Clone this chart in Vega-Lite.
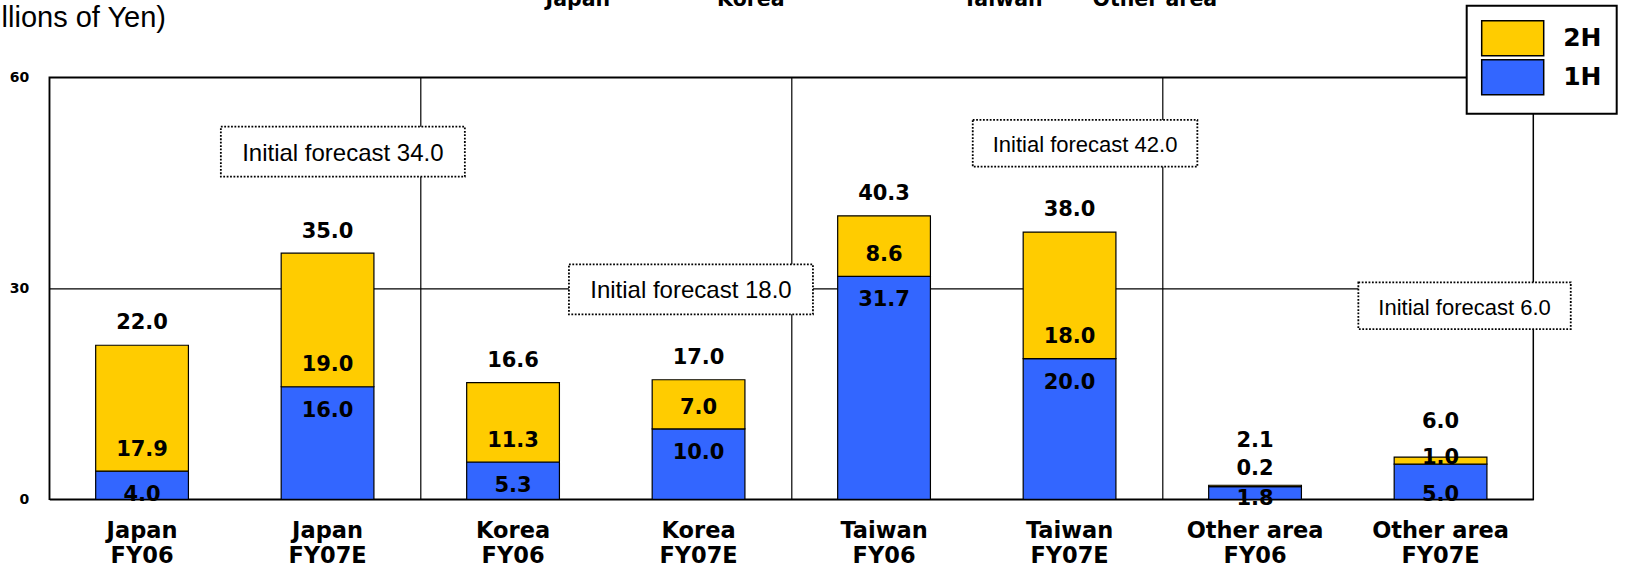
{
  "$schema": "https://vega.github.io/schema/vega-lite/v6.json",
  "width": 1484,
  "height": 422,
  "autosize": {"type": "none"},
  "padding": {"left": 49.3, "top": 77.3, "right": 110.7, "bottom": 69.7},
  "background": "white",
  "config": {"view": {"stroke": "black", "strokeWidth": 1.5}, "font": "DejaVu Sans"},
  "datasets": {
    "sales": [
      {"cat": "Japan|FY06", "1H": 4.0, "2H": 17.9, "total": 22.0},
      {"cat": "Japan|FY07E", "1H": 16.0, "2H": 19.0, "total": 35.0},
      {"cat": "Korea|FY06", "1H": 5.3, "2H": 11.3, "total": 16.6},
      {"cat": "Korea|FY07E", "1H": 10.0, "2H": 7.0, "total": 17.0},
      {"cat": "Taiwan|FY06", "1H": 31.7, "2H": 8.6, "total": 40.3},
      {"cat": "Taiwan|FY07E", "1H": 20.0, "2H": 18.0, "total": 38.0},
      {"cat": "Other area|FY06", "1H": 1.8, "2H": 0.2, "total": 2.1},
      {"cat": "Other area|FY07E", "1H": 5.0, "2H": 1.0, "total": 6.0}
    ]
  },
  "data": {"name": "sales"},
  "layer": [
    {
      "transform": [{"fold": ["1H", "2H"], "as": ["half", "v"]}],
      "mark": {"type": "bar", "width": {"band": 0.5}, "stroke": "black", "strokeWidth": 1.2},
      "encoding": {
        "x": {
          "field": "cat", "type": "nominal",
          "scale": {"domain": ["Japan|FY06", "Japan|FY07E", "Korea|FY06", "Korea|FY07E", "Taiwan|FY06", "Taiwan|FY07E", "Other area|FY06", "Other area|FY07E"], "paddingInner": 0, "paddingOuter": 0},
          "axis": {
            "bandPosition": 0, "domain": false, "ticks": false, "grid": true,
            "gridColor": {"condition": {"test": "indexof(datum.value, 'FY06') >= 0", "value": "black"}, "value": "transparent"},
            "gridWidth": 1.2,
            "labelExpr": "split(datum.label, '|')", "labelAngle": 0,
            "labelFont": "DejaVu Sans", "labelFontWeight": "bold", "labelFontSize": 22.5, "labelLineHeight": 25,
            "labelPadding": 20, "labelColor": "black", "labelOverlap": false,
            "title": "Japan\u00a0\u00a0\u00a0\u00a0\u00a0\u00a0\u00a0\u00a0\u00a0\u00a0\u00a0\u00a0\u00a0\u00a0\u00a0Korea\u00a0\u00a0\u00a0\u00a0\u00a0\u00a0\u00a0\u00a0\u00a0\u00a0\u00a0\u00a0\u00a0\u00a0\u00a0\u00a0\u00a0\u00a0\u00a0\u00a0\u00a0\u00a0\u00a0\u00a0\u00a0Taiwan\u00a0\u00a0\u00a0\u00a0\u00a0\u00a0\u00a0Other area",
            "titleFont": "DejaVu Sans", "titleFontWeight": "bold", "titleFontSize": 20.5, "titleColor": "black",
            "titleAlign": "left", "titleBaseline": "alphabetic", "titleX": 495.7, "titleY": -493.8
          }
        },
        "y": {
          "field": "v", "type": "quantitative", "stack": "zero",
          "scale": {"domain": [0, 60], "nice": false},
          "axis": {
            "values": [0, 30, 60], "domain": false, "ticks": false, "grid": true, "gridColor": "black", "gridWidth": 1.2,
            "labelFont": "DejaVu Sans", "labelFontWeight": "bold", "labelFontSize": 14, "labelPadding": 20.5, "labelColor": "black",
            "title": "(Millions of Yen)", "titleAngle": 0, "titleAlign": "left", "titleBaseline": "alphabetic",
            "titleFont": "Liberation Sans", "titleFontWeight": "normal", "titleFontSize": 29, "titleColor": "black",
            "titleX": -88.5, "titleY": -51.3
          }
        },
        "color": {
          "field": "half", "type": "nominal",
          "scale": {"domain": ["2H", "1H"], "range": ["#FFCC00", "#3366FF"]},
          "legend": {
            "orient": "none", "legendX": 1417.4, "legendY": -71.6, "title": null,
            "fillColor": "white", "strokeColor": "black", "padding": 15, "rowPadding": -7.3,
            "symbolType": "M-1.851,-1.045H1.851V1.045H-1.851Z", "symbolSize": 1122.25, "symbolOffset": 13.5,
            "symbolStrokeColor": "black", "symbolStrokeWidth": 1.5,
            "labelFont": "DejaVu Sans", "labelFontWeight": "bold", "labelFontSize": 25, "labelColor": "black",
            "labelOffset": 33, "labelExpr": "datum.label + '\u00a0\u00a0\u00a0\u00a0'",
            "encode": {
              "symbols": {"update": {"fill": {"signal": "datum.value === '1H' ? '#6699FF' : '#FFCC00'"}, "stroke": {"value": "black"}}},
              "legend": {"update": {"strokeWidth": {"value": 2}}}
            }
          }
        },
        "order": {"field": "half", "sort": "ascending"}
      }
    },
    {
      "mark": {"type": "text", "font": "DejaVu Sans", "fontWeight": "bold", "fontSize": 21, "baseline": "middle", "color": "black",
        "dy": {"expr": "datum.total < 3 ? 12.8 : datum.total < 7 ? 30.5 : 24.1"}},
      "encoding": {
        "x": {"field": "cat", "type": "nominal"},
        "y": {"field": "1H", "type": "quantitative"},
        "text": {"field": "1H", "type": "quantitative", "format": ".1f"}
      }
    },
    {
      "mark": {"type": "text", "font": "DejaVu Sans", "fontWeight": "bold", "fontSize": 21, "baseline": "middle", "color": "black",
        "dy": {"expr": "datum.total < 3 ? -17.5 : datum.total < 7 ? -6.1 : -21.3"}},
      "encoding": {
        "x": {"field": "cat", "type": "nominal"},
        "y": {"field": "1H", "type": "quantitative"},
        "text": {"field": "2H", "type": "quantitative", "format": ".1f"}
      }
    },
    {
      "mark": {"type": "text", "font": "DejaVu Sans", "fontWeight": "bold", "fontSize": 21, "baseline": "middle", "color": "black",
        "dy": {"expr": "datum.total < 3 ? -43.5 : datum.total < 7 ? -34.7 : -21.6"}},
      "encoding": {
        "x": {"field": "cat", "type": "nominal"},
        "y": {"field": "total", "type": "quantitative"},
        "text": {"field": "total", "type": "quantitative", "format": ".1f"}
      }
    },
    {
      "data": {"values": [{"cat": "Japan|FY07E", "label": "Initial forecast 34.0"}]},
      "layer": [
        {"mark": {"type": "point", "shape": "M-1,-0.205H1V0.205H-1Z", "size": 59536, "filled": true, "fill": "white", "stroke": "black", "strokeWidth": 1.8, "strokeDash": [1.8, 1.6], "opacity": 1, "xOffset": 15.3},
         "encoding": {"x": {"field": "cat", "type": "nominal"}, "y": {"datum": 49.42, "type": "quantitative"}}},
        {"mark": {"type": "text", "font": "Liberation Sans", "fontSize": 24, "baseline": "middle", "color": "black", "xOffset": 15.3, "dy": 2},
         "encoding": {"x": {"field": "cat", "type": "nominal"}, "y": {"datum": 49.42, "type": "quantitative"}, "text": {"field": "label"}}}
      ]
    },
    {
      "data": {"values": [{"cat": "Korea|FY07E", "label": "Initial forecast 18.0"}]},
      "layer": [
        {"mark": {"type": "point", "shape": "M-1,-0.205H1V0.205H-1Z", "size": 59536, "filled": true, "fill": "white", "stroke": "black", "strokeWidth": 1.8, "strokeDash": [1.8, 1.6], "opacity": 1, "xOffset": -7.6},
         "encoding": {"x": {"field": "cat", "type": "nominal"}, "y": {"datum": 29.85, "type": "quantitative"}}},
        {"mark": {"type": "text", "font": "Liberation Sans", "fontSize": 24, "baseline": "middle", "color": "black", "xOffset": -7.6, "dy": 2},
         "encoding": {"x": {"field": "cat", "type": "nominal"}, "y": {"datum": 29.85, "type": "quantitative"}, "text": {"field": "label"}}}
      ]
    },
    {
      "data": {"values": [{"cat": "Taiwan|FY07E", "label": "Initial forecast 42.0"}]},
      "layer": [
        {"mark": {"type": "point", "shape": "M-1,-0.208H1V0.208H-1Z", "size": 50445, "filled": true, "fill": "white", "stroke": "black", "strokeWidth": 1.8, "strokeDash": [1.8, 1.6], "opacity": 1, "xOffset": 15.5},
         "encoding": {"x": {"field": "cat", "type": "nominal"}, "y": {"datum": 50.62, "type": "quantitative"}}},
        {"mark": {"type": "text", "font": "Liberation Sans", "fontSize": 22, "baseline": "middle", "color": "black", "xOffset": 15.5, "dy": 2},
         "encoding": {"x": {"field": "cat", "type": "nominal"}, "y": {"datum": 50.62, "type": "quantitative"}, "text": {"field": "label"}}}
      ]
    },
    {
      "data": {"values": [{"cat": "Other area|FY07E", "label": "Initial forecast 6.0"}]},
      "layer": [
        {"mark": {"type": "point", "shape": "M-1,-0.22H1V0.22H-1Z", "size": 45114, "filled": true, "fill": "white", "stroke": "black", "strokeWidth": 1.8, "strokeDash": [1.8, 1.6], "opacity": 1, "xOffset": 24},
         "encoding": {"x": {"field": "cat", "type": "nominal"}, "y": {"datum": 27.53, "type": "quantitative"}}},
        {"mark": {"type": "text", "font": "Liberation Sans", "fontSize": 22, "baseline": "middle", "color": "black", "xOffset": 24, "dy": 2},
         "encoding": {"x": {"field": "cat", "type": "nominal"}, "y": {"datum": 27.53, "type": "quantitative"}, "text": {"field": "label"}}}
      ]
    }
  ]
}
